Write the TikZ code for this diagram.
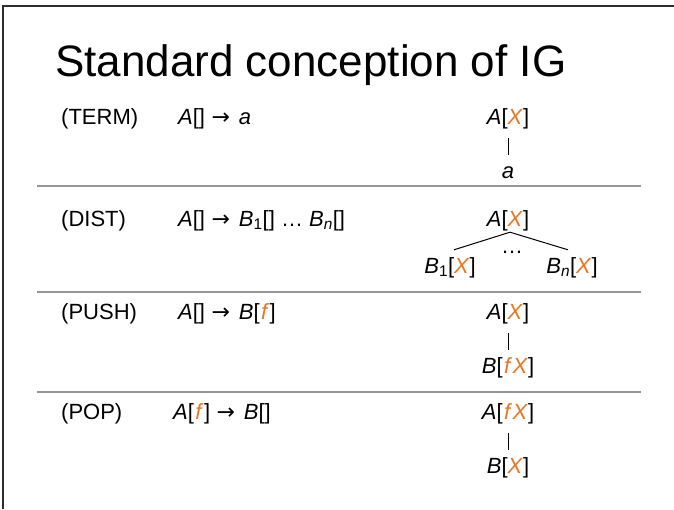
\documentclass[tikz,border=0pt]{standalone}
\usepackage{fontspec}
\setmainfont{Liberation Sans}
\newfontfamily\arrowfont{DejaVu Sans}
\usetikzlibrary{calc}
\definecolor{igorange}{RGB}{232,118,34}
\definecolor{rulegray}{RGB}{150,150,150}
\definecolor{framegray}{RGB}{45,45,45}
\newcommand\ox{\textcolor{igorange}{\textit{X}}}
\newcommand\of{\hspace{1.5pt}\textcolor{igorange}{\textit{f}}\hspace{0.5pt}}
\newcommand\arr{\hspace{0.3em}{\arrowfont →}\hspace{0.4em}}
\begin{document}
\begin{tikzpicture}[x=1pt,y=-1pt,
  txt/.style={inner sep=0pt,anchor=base west,font=\fontsize{22}{24}\selectfont},
  tree/.style={inner sep=0pt,anchor=base,font=\fontsize{22}{24}\selectfont,text height=16pt,text depth=5pt},
  sep/.style={draw=rulegray,line width=1.5pt},
  edge/.style={draw=black,line width=1pt,shorten <=9pt,shorten >=7pt},
  frame/.style={draw=framegray,line width=2pt}]
\useasboundingbox (0,0) rectangle (674,509);
\fill[white] (0,0) rectangle (674,509);
% frame
\coordinate (f1) at (3,509);
\coordinate (f2) at (3,6);
\coordinate (f3) at (674,6);
\draw[frame] (f1) -- (f2) -- (f3);
% title
\node[inner sep=0pt,anchor=base west,font=\fontsize{44}{48}\selectfont] (title) at (55,76) {Standard conception of IG};
% separators
\foreach \y/\n in {186/s1,292/s2,392/s3}{
  \coordinate (\n l) at (37,\y);
  \coordinate (\n r) at (641,\y);
  \draw[sep] (\n l) -- (\n r);
}
% left column
\node[txt] (lterm) at (61,124) {(TERM)};
\node[txt] (rterm) at (178,124) {\textit{A}[]\arr\textit{a}};
\node[txt] (ldist) at (61,226) {(DIST)};
\node[txt] (rdist) at (178,226) {\textit{A}[]\arr\textit{B}\textsubscript{1}[] … \textit{B}\textsubscript{\textit{n}}[]};
\node[txt] (lpush) at (61,319) {(PUSH)};
\node[txt] (rpush) at (178,319) {\textit{A}[]\arr\textit{B}[\of]};
\node[txt] (lpop) at (61,419) {(POP)};
\node[txt] (rpop) at (173,419) {\textit{A}[\of]\arr\textit{B}[]};
% TERM tree
\node[tree] (ta) at (508,124) {\textit{A}[\ox]};
\node[tree] (tb) at (508,178) {\textit{a}};
\draw[edge] (ta) -- (tb);
% DIST tree
\node[tree] (da) at (508,226) {\textit{A}[\ox]};
\node[tree] (db1) at (450,273) {\textit{B}\textsubscript{1}[\ox]};
\node[tree] (dbn) at (572,273) {\textit{B}\textsubscript{\textit{n}}[\ox]};
\node[inner sep=0pt,anchor=base,font=\fontsize{22}{24}\selectfont] (dd) at (512,253) {…};
\coordinate (dl) at ($(db1.north)+(4,-7)$);
\coordinate (dr) at ($(dbn.north)+(-4,-7)$);
\draw[line width=1pt] (dl) -- ($(da.south)+(2,1)$) -- (dr);
% PUSH tree
\node[tree] (pa) at (508,319) {\textit{A}[\ox]};
\node[tree] (pb) at (508,373) {\textit{B}[\of\ox]};
\draw[edge] (pa) -- (pb);
% POP tree
\node[tree] (oa) at (508,419) {\textit{A}[\of\ox]};
\node[tree] (ob) at (508,473) {\textit{B}[\ox]};
\draw[edge] (oa) -- (ob);
\end{tikzpicture}
\end{document}
